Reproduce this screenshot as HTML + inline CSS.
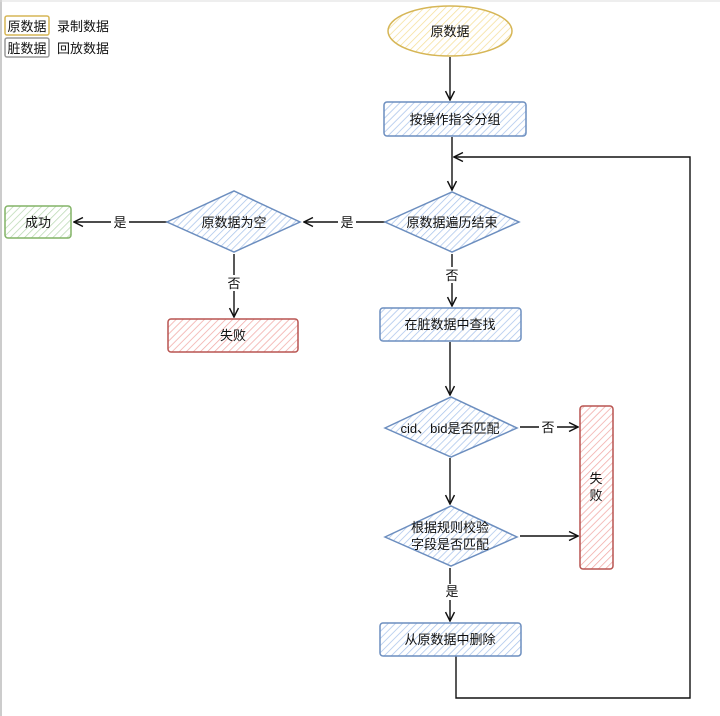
<!DOCTYPE html>
<html><head><meta charset="utf-8"><style>
html,body{margin:0;padding:0;background:#fff;}
svg{display:block;}
text{font-family:"Liberation Sans","Noto Sans CJK SC",sans-serif;font-size:13px;fill:#111;}
</style></head><body>
<svg width="720" height="716" viewBox="0 0 720 716" xmlns="http://www.w3.org/2000/svg">
<defs>
<pattern id="hb" width="5" height="5" patternUnits="userSpaceOnUse" patternTransform="rotate(45)"><rect width="5" height="5" fill="#fff"/><line x1="0" y1="0" x2="0" y2="5" stroke="#a9c4eb" stroke-width="1.5"/></pattern>
<pattern id="hr" width="5" height="5" patternUnits="userSpaceOnUse" patternTransform="rotate(45)"><rect width="5" height="5" fill="#fff"/><line x1="0" y1="0" x2="0" y2="5" stroke="#f1a9a6" stroke-width="1.5"/></pattern>
<pattern id="hg" width="5" height="5" patternUnits="userSpaceOnUse" patternTransform="rotate(45)"><rect width="5" height="5" fill="#fff"/><line x1="0" y1="0" x2="0" y2="5" stroke="#b9d8b2" stroke-width="1.5"/></pattern>
<pattern id="hy" width="5" height="5" patternUnits="userSpaceOnUse" patternTransform="rotate(45)"><rect width="5" height="5" fill="#fff"/><line x1="0" y1="0" x2="0" y2="5" stroke="#f5df99" stroke-width="1.5"/></pattern>
<marker id="ar" viewBox="0 0 10 10" refX="9" refY="5" markerWidth="8" markerHeight="8" orient="auto"><path d="M1,1 L9,5 L1,9" fill="none" stroke="#111" stroke-width="1.3"/></marker>
</defs>
<line x1="1" y1="0" x2="1" y2="716" stroke="#ccc" stroke-width="2"/>
<line x1="0" y1="1" x2="720" y2="1" stroke="#ddd" stroke-width="1"/>

<rect x="5" y="16" width="44" height="19" rx="2" fill="#fff" stroke="#d6b656" stroke-width="1.5"/>
<text x="27" y="31" text-anchor="middle">原数据</text>
<text x="57" y="31">录制数据</text>
<rect x="5" y="38" width="44" height="19" rx="2" fill="#fff" stroke="#999" stroke-width="1.5"/>
<text x="27" y="53" text-anchor="middle">脏数据</text>
<text x="57" y="53">回放数据</text>

<g fill="none" stroke="#111" stroke-width="1.4">
<line x1="450" y1="57" x2="450" y2="100" marker-end="url(#ar)"/>
<line x1="452" y1="137" x2="452" y2="190" marker-end="url(#ar)"/>
<polyline points="456,656 456,698 690,698 690,157 454,157" marker-end="url(#ar)"/>
<line x1="385" y1="222" x2="304" y2="222" marker-end="url(#ar)"/>
<line x1="167" y1="222" x2="74" y2="222" marker-end="url(#ar)"/>
<line x1="234" y1="254" x2="234" y2="317" marker-end="url(#ar)"/>
<line x1="452" y1="254" x2="452" y2="306" marker-end="url(#ar)"/>
<line x1="450" y1="342" x2="450" y2="395" marker-end="url(#ar)"/>
<line x1="450" y1="458" x2="450" y2="504" marker-end="url(#ar)"/>
<line x1="450" y1="568" x2="450" y2="621" marker-end="url(#ar)"/>
<line x1="520" y1="427" x2="578" y2="427" marker-end="url(#ar)"/>
<line x1="520" y1="536" x2="578" y2="536" marker-end="url(#ar)"/>
</g>
<g fill="#fff">
<rect x="338" y="214" width="18" height="16"/>
<rect x="111" y="214" width="18" height="16"/>
<rect x="225" y="275" width="18" height="16"/>
<rect x="443" y="267" width="18" height="16"/>
<rect x="539" y="419" width="18" height="16"/>
<rect x="441" y="584" width="18" height="16"/>
</g>
<text x="347" y="227" text-anchor="middle">是</text>
<text x="120" y="227" text-anchor="middle">是</text>
<text x="234" y="288" text-anchor="middle">否</text>
<text x="452" y="280" text-anchor="middle">否</text>
<text x="548" y="432" text-anchor="middle">否</text>
<text x="452" y="596" text-anchor="middle">是</text>

<ellipse cx="450" cy="31" rx="62" ry="25" fill="url(#hy)" stroke="#d6b656" stroke-width="1.5"/>
<text x="450" y="36" text-anchor="middle">原数据</text>

<rect x="384" y="102" width="142" height="34" rx="3" fill="url(#hb)" stroke="#6c8ebf" stroke-width="1.5"/>
<text x="455" y="124" text-anchor="middle">按操作指令分组</text>

<polygon points="385,222 452,192 519,222 452,252" fill="url(#hb)" stroke="#6c8ebf" stroke-width="1.5"/>
<text x="452" y="227" text-anchor="middle">原数据遍历结束</text>

<polygon points="167,222 234,191 300,222 234,252" fill="url(#hb)" stroke="#6c8ebf" stroke-width="1.5"/>
<text x="234" y="227" text-anchor="middle">原数据为空</text>

<rect x="5" y="206" width="66" height="32" rx="3" fill="url(#hg)" stroke="#82b366" stroke-width="1.5"/>
<text x="38" y="227" text-anchor="middle">成功</text>

<rect x="168" y="319" width="130" height="33" rx="3" fill="url(#hr)" stroke="#b85450" stroke-width="1.5"/>
<text x="233" y="340" text-anchor="middle">失败</text>

<rect x="380" y="308" width="141" height="33" rx="3" fill="url(#hb)" stroke="#6c8ebf" stroke-width="1.5"/>
<text x="450" y="329" text-anchor="middle">在脏数据中查找</text>

<polygon points="385,428 451,397 517,428 451,457" fill="url(#hb)" stroke="#6c8ebf" stroke-width="1.5"/>
<text x="450" y="433" text-anchor="middle">cid、bid是否匹配</text>

<polygon points="385,537 451,506 517,537 451,566" fill="url(#hb)" stroke="#6c8ebf" stroke-width="1.5"/>
<text x="450" y="532" text-anchor="middle">根据规则校验</text>
<text x="450" y="549" text-anchor="middle">字段是否匹配</text>

<rect x="380" y="623" width="141" height="33" rx="3" fill="url(#hb)" stroke="#6c8ebf" stroke-width="1.5"/>
<text x="450" y="644" text-anchor="middle">从原数据中删除</text>

<rect x="580" y="406" width="33" height="163" rx="3" fill="url(#hr)" stroke="#b85450" stroke-width="1.5"/>
<text x="596" y="483" text-anchor="middle">失</text>
<text x="596" y="500" text-anchor="middle">败</text>
</svg>
</body></html>
